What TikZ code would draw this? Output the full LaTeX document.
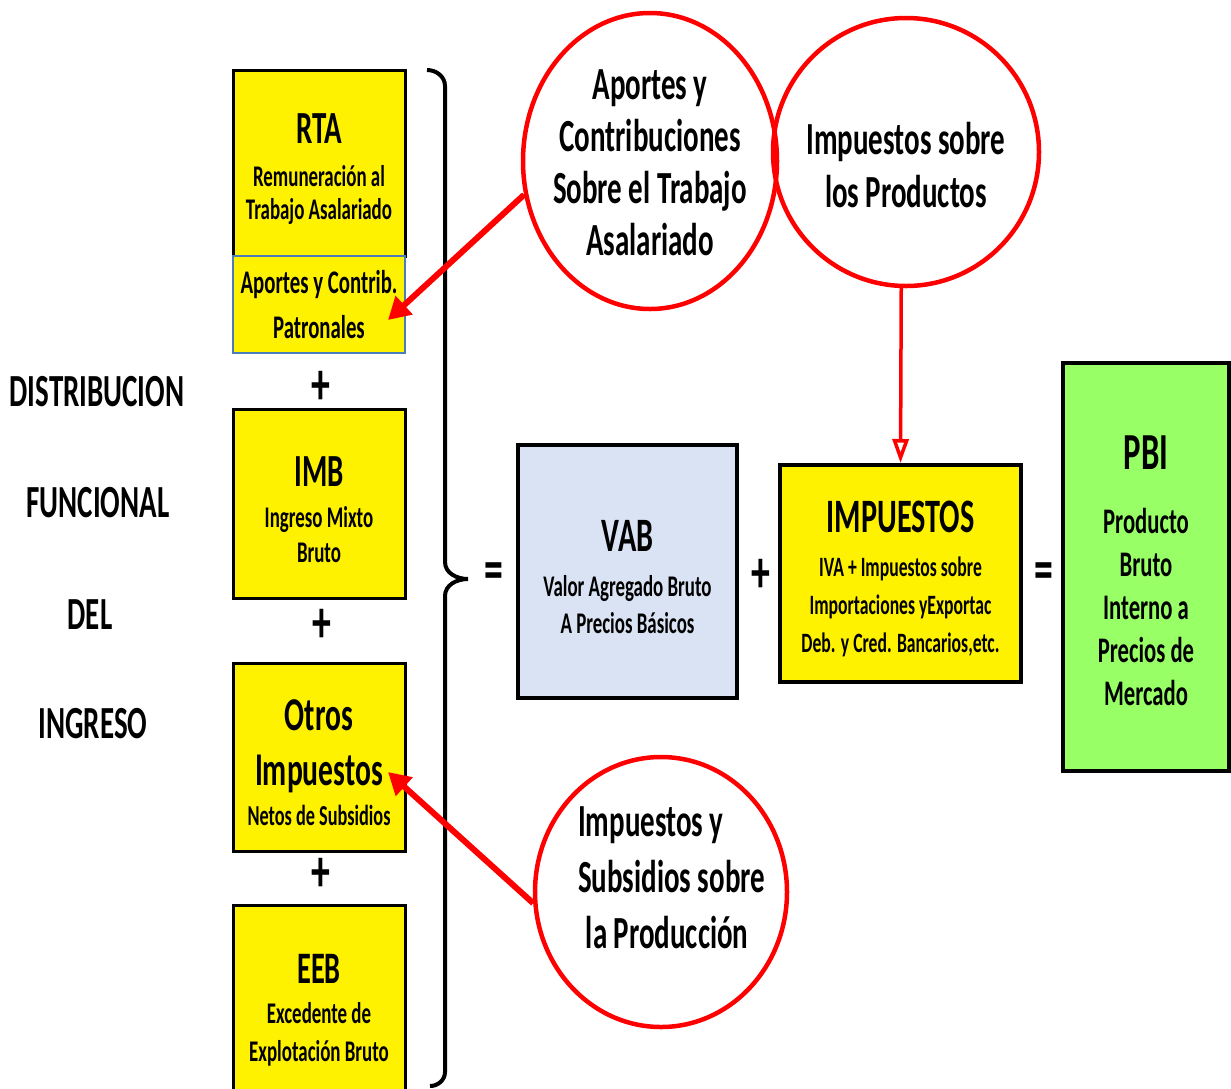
\documentclass[tikz,border=0pt]{standalone}
\usepackage{fontspec}
\newfontfamily\cond{Carlito}[FakeStretch=0.63]
\usetikzlibrary{shapes.geometric,arrows.meta}

\definecolor{celeste}{HTML}{DAE3F3}
\definecolor{verde}{HTML}{99FF66}
\definecolor{borde}{HTML}{4A7EBB}

\newcommand\fs[2]{\fontsize{#1}{#2}\selectfont}
\newcommand\alto{\rule{0pt}{42pt}}

\begin{document}
\begin{tikzpicture}[x=1pt,y=-1pt,font=\cond\bfseries,
  cajon/.style={draw=black,line width=3pt,fill=yellow,minimum width=172pt,inner sep=0pt,align=center},
  burbuja/.style={ellipse,draw=red,line width=4.5pt,inner sep=0pt},
  signo/.style={font=\cond\bfseries\fs{60}{60},inner sep=0pt},
  rotulo/.style={font=\cond\bfseries\fs{46}{46},inner sep=0pt},
  flecha/.style={draw=red,line width=6pt,-{Triangle[length=22pt,width=24pt]}}]

  \clip (0,0) rectangle (1231,1088);
  \useasboundingbox (0,0) rectangle (1231,1088);

  % --- Left labels ---
  \node[rotulo] (dist) at (97,392) {DISTRIBUCION};
  \node[rotulo] (func) at (98,503) {FUNCIONAL};
  \node[rotulo] (del)  at (90,615) {DEL};
  \node[rotulo] (ingr) at (93,724) {INGRESO};

  % --- Components of the income ---
  \node[cajon,minimum height=186pt,font=\cond\bfseries\fs{30}{33}] (rta) at (319,163)
    {{\fs{46}{46}\alto RTA}\\[10pt]Remuneración al\\Trabajo Asalariado};
  \node[cajon,draw=borde,line width=2pt,minimum height=97pt,font=\cond\bfseries\fs{33}{45}] (apor) at (319,304.5)
    {Aportes y Contrib.\\Patronales};
  \node[signo] (mas1) at (321,388) {+};
  \node[cajon,minimum height=189pt,font=\cond\bfseries\fs{30}{35}] (imb) at (319,503.5)
    {{\fs{46}{46}\alto IMB}\\[6pt]Ingreso Mixto\\Bruto};
  \node[signo] (mas2) at (322,626) {+};
  \node[cajon,minimum height=188pt,font=\cond\bfseries\fs{29}{40}] (otros) at (319,757)
    {{\fs{47}{47}\alto Otros}\\[15pt]{\fs{47}{47}Impuestos}\\Netos de Subsidios};
  \node[signo] (mas3) at (321,875) {+};
  \node[cajon,minimum height=198pt,font=\cond\bfseries\fs{30}{38}] (eeb) at (319,1004)
    {{\fs{45}{45}\alto EEB}\\[2pt]Excedente de\\Explotación Bruto};

  % --- Brace ---
  \draw[line width=4pt] (427,70) to[out=0,in=90] (445,86) -- (445,562)
    to[out=-90,in=180] (468,579) to[out=180,in=90] (445,596) -- (445,1072)
    to[out=-90,in=0] (430,1086);

  % --- Equation ---
  \node[signo] (igual1) at (494,576) {=};
  \node[cajon,fill=celeste,line width=4pt,minimum width=219pt,minimum height=253pt,font=\cond\bfseries\fs{30}{37}] (vab) at (627.5,571.5)
    {{\fs{48}{48}\alto VAB}\\[8pt]Valor Agregado Bruto\\A Precios Básicos};
  \node[signo] (mas4) at (761,576) {+};
  \node[cajon,line width=4pt,minimum width=241pt,minimum height=217pt,font=\cond\bfseries\fs{28}{38}] (imp) at (900.5,573.5)
    {{\fs{48}{48}\alto IMPUESTOS}\\[6pt]IVA + Impuestos sobre\\Importaciones yExportac\\Deb. y Cred. Bancarios,etc.};
  \node[signo] (igual2) at (1044,576) {=};
  \node[cajon,fill=verde,line width=4pt,minimum width=166pt,minimum height=408pt,font=\cond\bfseries\fs{36}{43}] (pbi) at (1146,567)
    {{\fs{52}{52}\alto PBI}\\[21pt]Producto\\Bruto\\Interno a\\Precios de\\Mercado};

  % --- Bubbles ---
  \node[burbuja,minimum width=254pt,minimum height=296pt] (burb1) at (650,161) {};
  \node[align=center,font=\cond\bfseries\fs{46}{52}] (burb1txt) at (650,163)
    {Aportes y\\Contribuciones\\Sobre el Trabajo\\Asalariado};
  \node[burbuja,minimum width=266pt,minimum height=268pt] (burb2) at (906,152) {};
  \node[align=center,font=\cond\bfseries\fs{46}{53}] (burb2txt) at (906,165)
    {Impuestos sobre\\los Productos};
  \node[burbuja,minimum width=252pt,minimum height=270pt] (burb3) at (661,892) {};
  \node[align=left,anchor=west,inner sep=0pt,font=\cond\bfseries\fs{46}{56}] (burb3txt) at (578,878)
    {Impuestos y\\Subsidios sobre\\\,la Producción};

  % --- Arrows ---
  \coordinate (punta1) at (388,320);
  \coordinate (punta3) at (388,772);
  \draw[flecha] (burb1.195) -- (punta1);
  \draw[flecha] (burb3.185) -- (punta3);
  \draw[draw=red,line width=3.5pt,-{Triangle[open,length=24pt,width=16pt]}] (burb2.268) -- (imp.north);

\end{tikzpicture}
\end{document}
